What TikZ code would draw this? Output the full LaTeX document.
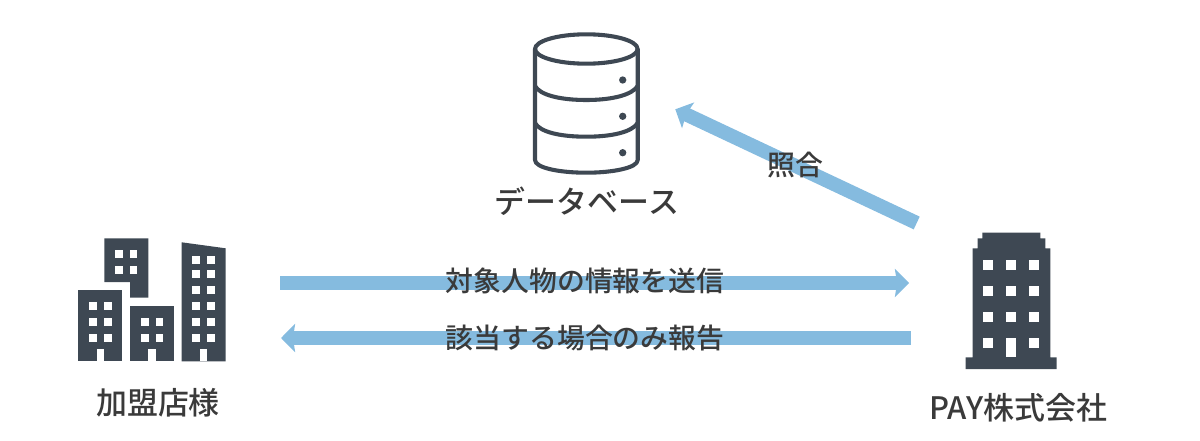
\documentclass[tikz,border=0pt]{standalone}
\usepackage{fontspec}
\setmainfont{Noto Sans CJK JP Medium}
\usetikzlibrary{arrows.meta}
\definecolor{iconcol}{HTML}{3E4853}
\definecolor{flowcol}{HTML}{85BBDF}
\definecolor{textcol}{HTML}{3A3A3A}

\begin{document}
\begin{tikzpicture}[
      x=0.025cm,y=-0.025cm,
      flow/.style={draw=flowcol,line width=10pt,-{Stealth[length=10pt,width=20pt,inset=1.5pt]}},
      big label/.style={text=textcol,font=\fontsize{22}{24}\selectfont,inner sep=0pt},
      small label/.style={text=textcol,font=\fontsize{19.8}{24}\selectfont,inner sep=0pt},
      solid part/.style={fill=iconcol,draw=none},
      window/.style={fill=white,draw=none},
      db line/.style={draw=iconcol,line width=2.9pt,line join=round}
    ]
    \useasboundingbox (0,0) rectangle (1200,440);

    % buildings on the left
    \path[solid part] (104.3,238.3) -- (148.3,238.3) -- (148.3,297.7) -- (130,297.7) -- (130,282) -- (104.3,282) -- cycle;
    \path[solid part] (78.3,290) rectangle (122.3,361.3);
    \path[solid part] (130,306) rectangle (174,361.3);
    \path[solid part] (181.7,242.3) -- (225.7,248.3) -- (225.7,361.3) -- (181.7,361.3) -- cycle;
    \foreach \x in {115,129.7} \foreach \y in {250.3,266}
      \path[window] (\x,\y) rectangle ++(7.5,8);
    \foreach \x in {89.3,104} \foreach \y in {301.7,317.7,333.7}
      \path[window] (\x,\y) rectangle ++(7.5,8);
    \foreach \x in {141,155.7} \foreach \y in {317.7,333.7}
      \path[window] (\x,\y) rectangle ++(7.5,8);
    \foreach \x in {192.3,207.3} \foreach \y in {256.3,270,285.7,301.7,317.7,333.7}
      \path[window] (\x,\y) rectangle ++(7.5,8);
    \foreach \x in {96.7,148.3,199.7}
      \path[window] (\x,349.3) rectangle (\x+7.4,361.3);

    % office on the right
    \path[solid part] (982.3,232.7) -- (1040.3,232.7) -- (1040.3,238.3) -- (1045.3,238.3) -- (1045.3,248.3) -- (1050.3,248.3) -- (1050.3,357.3) -- (1056.7,357.3) -- (1056.7,369) -- (965.7,369) -- (965.7,357.3) -- (972.7,357.3) -- (972.7,248.3) -- (977.7,248.3) -- (977.7,238.3) -- (982.3,238.3) -- cycle;
    \foreach \x in {983.3,1006.3,1029} \foreach \y in {260,286,312}
      \path[window] (\x,\y) rectangle ++(10,9.8);
    \foreach \x in {983.3,1029}
      \path[window] (\x,338) rectangle ++(10,10);
    \path[window] (1006.3,338) rectangle (1016,357.3);

    % database
    \draw[db line] (586.3,49) ellipse (51.3 and 14.7);
    \draw[db line] (535,49) -- (535,160) .. controls (535,168) and (560,172.7) .. (586.3,172.7) .. controls (612,172.7) and (637.7,168) .. (637.7,160) -- (637.7,49);
    \draw[db line] (535,86) .. controls (540,95) and (560,100) .. (586.3,100) .. controls (612,100) and (632,95) .. (637.7,86);
    \draw[db line] (535,123) .. controls (540,132) and (560,136.7) .. (586.3,136.7) .. controls (612,136.7) and (632,132) .. (637.7,123);
    \foreach \y in {80,116.3,152.7}
      \fill[iconcol] (622.7,\y) circle (2.6pt);

    % ends of the arrows
    \coordinate (store out) at (280,283);
    \coordinate (pay in) at (909,283);
    \coordinate (pay out) at (911,338);
    \coordinate (store in) at (281,338);
    \coordinate (pay check) at (916.7,223);
    \coordinate (db in) at (675.3,109.3);

    \draw[flow] (store out) -- (pay in);
    \draw[flow] (pay out) -- (store in);
    \draw[flow] (pay check) -- (db in);

    \node[big label] (db name) at (587,201) {データベース};
    \node[big label] (store name) at (158,403) {加盟店様};
    \node[big label] (pay name) at (1018.5,408) {PAY株式会社};
    \node[small label] (check) at (795,165) {照合};
    \node[small label] (send) at (585,281) {対象人物の情報を送信};
    \node[small label] (report) at (585,338) {該当する場合のみ報告};
  \end{tikzpicture}
\end{document}
